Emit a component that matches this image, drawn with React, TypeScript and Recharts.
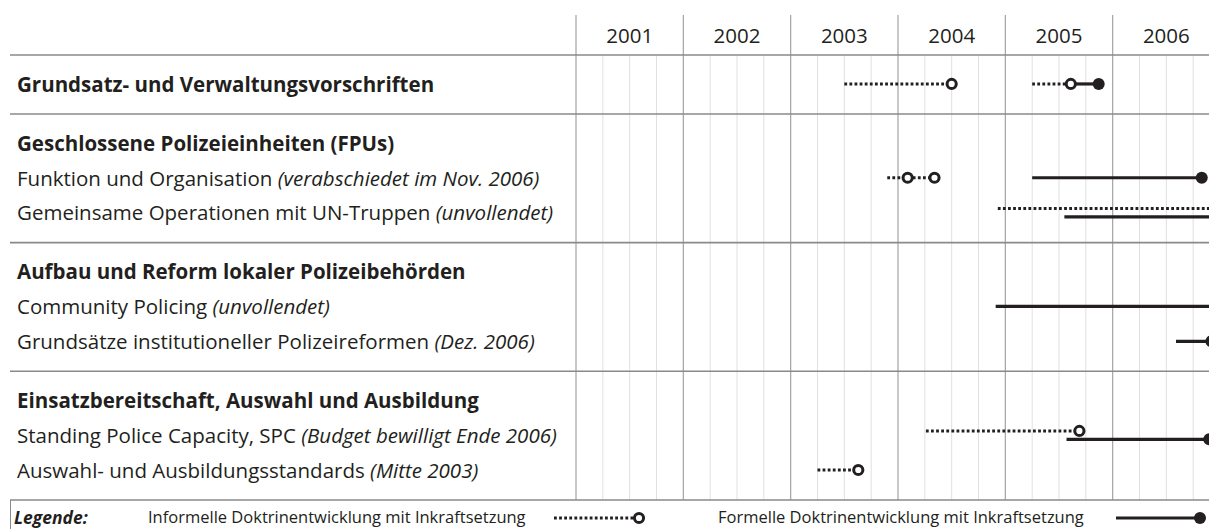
import React from "react";
import { ComposedChart, XAxis, YAxis, Scatter, ReferenceLine } from "recharts";

const INK = "#231f20";
const FONT = "'Open Sans', 'Noto Sans', sans-serif";

// Jahresspalten
const years = [2001, 2002, 2003, 2004, 2005, 2006];
const yearLabels = ["2001", "2002", "2003", "2004", "2005", "2006"];

// Bereiche (fett) und Einzelthemen
const sections = [
  "Grundsatz- und Verwaltungsvorschriften",
  "Geschlossene Polizeieinheiten (FPUs)",
  "Aufbau und Reform lokaler Polizeibehörden",
  "Einsatzbereitschaft, Auswahl und Ausbildung",
];
const topics = [
  "Funktion und Organisation",
  "Gemeinsame Operationen mit UN-Truppen",
  "Community Policing",
  "Grundsätze institutioneller Polizeireformen",
  "Standing Police Capacity, SPC",
  "Auswahl- und Ausbildungsstandards",
];
const topicNotes = [
  "(verabschiedet im Nov. 2006)",
  "(unvollendet)",
  "(unvollendet)",
  "(Dez. 2006)",
  "(Budget bewilligt Ende 2006)",
  "(Mitte 2003)",
];
const topicSection = [1, 1, 2, 2, 3, 3];

// Zeilen-Index der Zeitstrahlen (0 = Grundsatz, 2 = Funktion, ...)
// informell: gepunktet, offene Kreise bei Inkraftsetzung
const informell = [
  { row: 0, from: 2003.5, to: 2004.5, marks: [2004.5] },
  { row: 0, from: 2005.25, to: 2005.61, marks: [2005.61] },
  { row: 2, from: 2003.9, to: 2004.34, marks: [2004.09, 2004.34] },
  { row: 3, from: 2004.93, to: 2007, marks: [] },
  { row: 8, from: 2004.26, to: 2005.69, marks: [2005.69] },
  { row: 9, from: 2003.25, to: 2003.63, marks: [2003.63] },
];
// formell: durchgezogen, gefüllter Punkt bei Inkraftsetzung
const formell = [
  { row: 0, from: 2005.61, to: 2005.87, marks: [2005.87] },
  { row: 2, from: 2005.25, to: 2006.83, marks: [2006.83] },
  { row: 3, from: 2005.55, to: 2007, marks: [] },
  { row: 5, from: 2004.91, to: 2007, marks: [] },
  { row: 6, from: 2006.59, to: 2006.92, marks: [2006.92] },
  { row: 8, from: 2005.57, to: 2006.9, marks: [2006.9] },
];

// Zeilenlayout
const TOP_PAD = 0.83;
const BOTTOM_PAD = 0.86;
type Row = { pos: number; title: string; note: string; bold: boolean };
const rows: Row[] = [];
const separators: number[] = [0];
let cursor = 0;
sections.forEach((title, s) => {
  cursor += TOP_PAD;
  rows.push({ pos: cursor, title, note: "", bold: true });
  topics.forEach((t, i) => {
    if (topicSection[i] === s) {
      cursor += 1;
      rows.push({ pos: cursor, title: t, note: topicNotes[i], bold: false });
    }
  });
  cursor += BOTTOM_PAD;
  separators.push(cursor);
});
const Y_MAX = cursor;

const quarters = years.flatMap((y) => [y + 0.25, y + 0.5, y + 0.75]);

type Seg = { row: number; from: number; to: number; marks: number[] };
const overlaps = (a: Seg, b: Seg) => a.row === b.row && a.from < b.to && b.from < a.to;

function toPoints(seg: Seg, shift: number) {
  const xs = Array.from(new Set([seg.from, ...seg.marks, seg.to])).sort((a, b) => a - b);
  return xs.map((x) => ({ x, y: rows[seg.row].pos + shift, mark: seg.marks.includes(x) }));
}

const informalShift = (s: Seg) => (formell.some((f) => overlaps(s, f)) ? -0.12 : 0);
const formalShift = (s: Seg) => (informell.some((f) => overlaps(s, f)) ? 0.12 : 0);

function OpenMark(props: any) {
  const { cx, cy } = props;
  const mark = props.payload ? props.payload.mark : props.mark;
  if (!mark) return <g />;
  return <circle cx={cx} cy={cy} r={4.6} fill="#fff" stroke={INK} strokeWidth={3} />;
}

function FilledMark(props: any) {
  const { cx, cy } = props;
  const mark = props.payload ? props.payload.mark : props.mark;
  if (!mark) return <g />;
  return <circle cx={cx} cy={cy} r={6} fill={INK} />;
}

function RowLabel(props: any) {
  const { y, payload } = props;
  const row = rows.find((r) => Math.abs(r.pos - payload.value) < 1e-6);
  if (!row) return <g />;
  return (
    <text
      x={17}
      y={y}
      dy="0.38em"
      fontFamily={FONT}
      fontSize={20.5}
      fill={INK}
      fontWeight={row.bold ? 700 : 400}
    >
      {row.title}
      {row.note ? <tspan fontStyle="italic">{" " + row.note}</tspan> : null}
    </text>
  );
}

function YearLine(props: any) {
  const { x1, y1, x2, y2 } = props;
  return <line x1={x1} y1={y1 - 40} x2={x2} y2={y2} stroke="#a3a3a3" strokeWidth={1.2} />;
}

function SeparatorLine(props: any) {
  const { y1, x2, y2 } = props;
  return <line x1={10} y1={y1} x2={x2} y2={y2} stroke="#8a8a8a" strokeWidth={1.6} />;
}

export default function App() {
  return (
    <div
      style={{
        position: "absolute",
        left: 0,
        top: 0,
        width: 1209,
        height: 529,
        overflow: "hidden",
        background: "#fff",
        fontFamily: FONT,
        color: INK,
      }}
    >
      <ComposedChart width={1240} height={529} margin={{ top: 15, right: 20, bottom: 29, left: 0 }}>
        <XAxis
          type="number"
          dataKey="x"
          domain={[2001, 2007]}
          allowDataOverflow
          orientation="top"
          height={40}
          ticks={years.map((y) => y + 0.5)}
          tickFormatter={(v: number) => yearLabels[years.indexOf(Math.floor(v))]}
          axisLine={false}
          tickLine={false}
          tickSize={0}
          tickMargin={12}
          interval={0}
          tick={{ fontSize: 20.5, fill: INK, fontFamily: FONT }}
        />
        <YAxis
          type="number"
          dataKey="y"
          domain={[0, Y_MAX]}
          allowDataOverflow
          reversed
          width={576}
          ticks={rows.map((r) => r.pos)}
          interval={0}
          axisLine={false}
          tickLine={false}
          tick={<RowLabel />}
        />

        {quarters.map((q) => (
          <ReferenceLine key={"q" + q} x={q} stroke="#e0e0e0" strokeWidth={1} />
        ))}
        {[...years, 2007].map((y) => (
          <ReferenceLine key={"y" + y} x={y} ifOverflow="visible" shape={<YearLine />} />
        ))}
        {separators.map((s) => (
          <ReferenceLine key={"s" + s} y={s} ifOverflow="visible" shape={<SeparatorLine />} />
        ))}

        {formell.map((seg, i) => (
          <Scatter
            key={"f" + i}
            data={toPoints(seg, formalShift(seg))}
            fill={INK}
            line={{ stroke: INK, strokeWidth: 3.2 }}
            lineType="joint"
            shape={<FilledMark />}
            isAnimationActive={false}
          />
        ))}
        {informell.map((seg, i) => (
          <Scatter
            key={"i" + i}
            data={toPoints(seg, informalShift(seg))}
            fill={INK}
            line={{ stroke: INK, strokeWidth: 3, strokeDasharray: "2.8 2.3" }}
            lineType="joint"
            shape={<OpenMark />}
            isAnimationActive={false}
          />
        ))}
      </ComposedChart>

      <div
        style={{
          position: "absolute",
          left: 10,
          top: 500,
          width: 1240,
          height: 40,
          borderLeft: "1.6px solid #8a8a8a",
          fontSize: 16.5,
          lineHeight: "26px",
        }}
      >
        <span style={{ position: "absolute", left: 3, top: 4, fontSize: 17.5, fontWeight: 700, fontStyle: "italic" }}>
          Legende:
        </span>
        <span style={{ position: "absolute", left: 137, top: 4 }}>
          Informelle Doktrinentwicklung mit Inkraftsetzung
        </span>
        <svg style={{ position: "absolute", left: 540, top: 10 }} width={100} height={16}>
          <line x1={3} y1={8} x2={84} y2={8} stroke={INK} strokeWidth={3} strokeDasharray="2.8 2.3" />
          <circle cx={88} cy={8} r={4.6} fill="#fff" stroke={INK} strokeWidth={3} />
        </svg>
        <span style={{ position: "absolute", left: 707, top: 4 }}>
          Formelle Doktrinentwicklung mit Inkraftsetzung
        </span>
        <svg style={{ position: "absolute", left: 1102, top: 10 }} width={100} height={16}>
          <line x1={3} y1={8} x2={87} y2={8} stroke={INK} strokeWidth={3.2} />
          <circle cx={87} cy={8} r={6} fill={INK} />
        </svg>
      </div>
    </div>
  );
}
